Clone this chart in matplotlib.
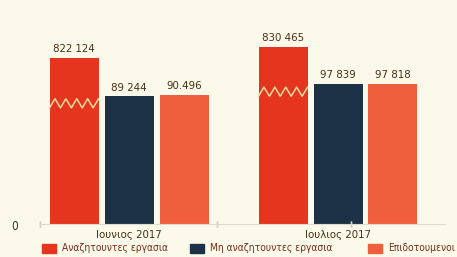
import matplotlib
matplotlib.use("Agg")
import matplotlib.pyplot as plt
import numpy as np

# data
months = ["Ιουνιος 2017", "Ιουλιος 2017"]
series = ["Αναζητουντες εργασια", "Μη αναζητουντες εργασια", "Επιδοτουμενοι"]
seeking = [822124, 830465]
not_seeking = [89244, 97839]
subsidised = [90496, 97818]
value_labels = [["822 124", "830 465"], ["89 244", "97 839"], ["90.496", "97 818"]]

colors = ["#e5351f", "#1d3246", "#ef5f3e"]
bg = "#fbf9ea"
txt = "#4a2e18"

plt.rcParams["font.family"] = ["DejaVu Sans"]
plt.rcParams["font.stretch"] = "condensed"

# broken axis: linear to 100k, squeezed gap, then linear again
brk_data = [0, 100000, 815000, 2000000]
brk_disp = [0, 100000, 109450, 109450 + 1185000 * 0.92]


def fwd(v):
    return np.interp(np.asarray(v, dtype=float), brk_data, brk_disp)


def inv(d):
    return np.interp(np.asarray(d, dtype=float), brk_disp, brk_data)


fig = plt.figure(figsize=(4.57, 2.57), dpi=100)
fig.patch.set_facecolor(bg)
ax = fig.add_axes([40 / 457, 33 / 257, 405 / 457, 224 / 257])
ax.set_facecolor(bg)
ax.set_yscale("function", functions=(fwd, inv))

x = np.arange(len(months))
step = 55 / 209
width = 49 / 209
data = [seeking, not_seeking, subsidised]
for i, vals in enumerate(data):
    xs = x + (i - 1) * step
    ax.bar(xs, vals, width=width, color=colors[i], zorder=2)
    for xx, v, lab in zip(xs, vals, value_labels[i]):
        ax.text(xx, inv(fwd(v) + 2600), lab, ha="center", va="bottom",
                fontsize=8.2, color=txt)

# zigzag break marks on the tall bars
for j in range(len(months)):
    x0 = x[j] - step - width / 2
    zx = np.linspace(x0, x0 + width, 10)
    base = 0.945 * not_seeking[j]
    zy = base + np.where(np.arange(10) % 2 == 0, -3200, 3200)
    ax.plot(zx, zy, color="#f6dc9c", lw=1.1, zorder=3)

top = inv(224 / 140 * 97839)
ax.set_ylim(0, float(top))
ax.set_xlim(-0.426, 1.512)

for s in ["top", "right", "left"]:
    ax.spines[s].set_visible(False)
ax.spines["bottom"].set_color("#dddbd0")
ax.spines["bottom"].set_linewidth(0.8)
ax.set_yticks([])
ax.set_xticks(x)
ax.set_xticklabels(months, fontsize=8.2, color=txt)
ax.tick_params(axis="x", length=0, pad=4)
for tx in [-0.426, 0.42, 1.06]:
    ax.plot([tx, tx], [0, 0], marker="|", ms=5, color="#d0cec2", clip_on=False)

fig.text(15 / 457, 1 - 226 / 257, "0", fontsize=8.5, color=txt,
         ha="center", va="center")

# legend, placed by hand
leg_x = [42, 190, 368]
for i, name in enumerate(series):
    fig.patches.append(plt.Rectangle((leg_x[i] / 457, 1 - 253 / 257), 14 / 457, 9 / 257,
                                     transform=fig.transFigure, color=colors[i]))
    fig.text((leg_x[i] + 20) / 457, 1 - 248 / 257, name, fontsize=7.3,
             color="#7a2a18", va="center", ha="left")

fig.savefig("out.png", dpi=100, facecolor=bg)
